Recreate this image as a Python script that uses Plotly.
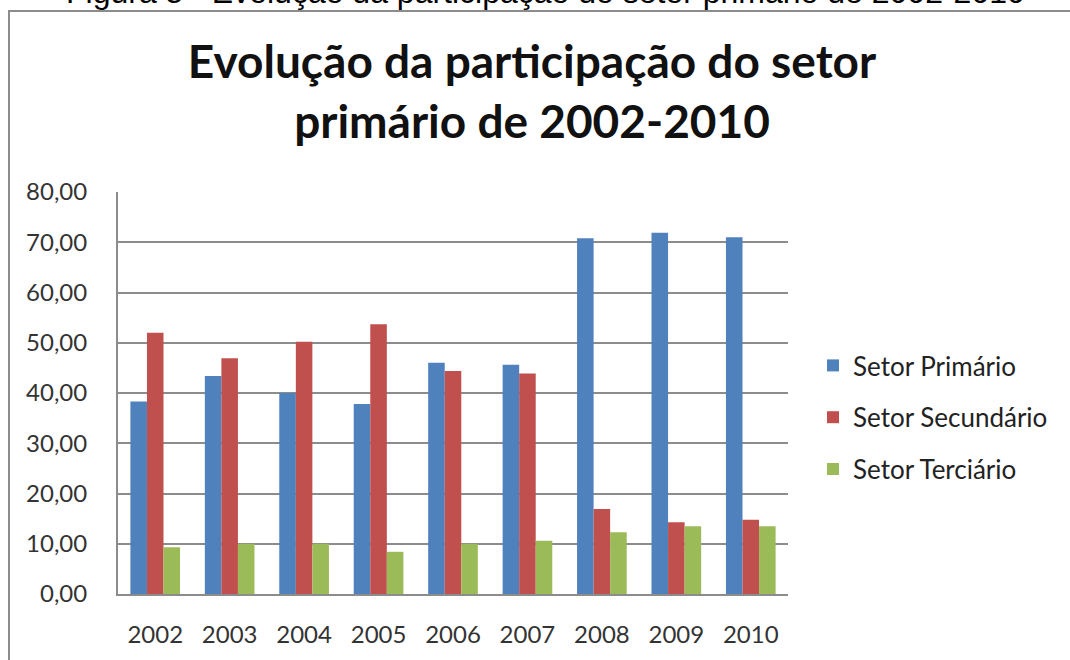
import plotly.graph_objects as go

anos = ["2002", "2003", "2004", "2005", "2006", "2007", "2008", "2009", "2010"]
primario = [38.3, 43.4, 40.0, 37.8, 46.0, 45.6, 70.8, 71.9, 71.0]
secundario = [52.0, 46.9, 50.2, 53.7, 44.4, 43.9, 16.9, 14.3, 14.8]
terciario = [9.3, 10.0, 10.0, 8.4, 10.0, 10.6, 12.3, 13.5, 13.5]
series_nomes = ["Setor Primário", "Setor Secundário", "Setor Terciário"]
cores = ["#4F81BD", "#C0504D", "#9BBB59"]

W, H = 1070, 660
L, R, T, B = 118, 788, 192, 594  # plot area in pixels


def px(x):
    return (x - L) / (R - L)


def py(y):
    return (B - y) / (B - T)


fig = go.Figure()
for nome, vals, cor in zip(series_nomes, [primario, secundario, terciario], cores):
    fig.add_trace(go.Bar(x=anos, y=vals, name=nome, marker_color=cor,
                         marker_line_width=0, legendgroup=nome))

fig.update_layout(
    width=W, height=H,
    margin=dict(l=L, r=W - R, t=T, b=H - B, pad=0, autoexpand=False),
    paper_bgcolor="white", plot_bgcolor="white",
    barmode="group", bargap=0.333, bargroupgap=0,
    separators=",.",
    font=dict(family="Lato, Calibri, sans-serif", color="#3a3a3a"),
    title=dict(text="Evolução da participação do setor<br>primário de 2002-2010",
               font=dict(family="Lato, Calibri, sans-serif", size=46, color="#111111",
                         weight="bold"),
               x=532 / W, xanchor="center", xref="container",
               y=1 - 78 / H, yanchor="top", yref="container", automargin=False),
    showlegend=True,
    legend=dict(x=px(813), y=py(342), xanchor="left", yanchor="top",
                font=dict(size=26, color="#222222"), tracegroupgap=15,
                bgcolor="rgba(0,0,0,0)"),
    xaxis=dict(type="category", showgrid=False, showline=True, linecolor="#8c8c8c",
               linewidth=2, ticks="", tickfont=dict(size=24, color="#333333"),
               ticklabelstandoff=18, automargin=False),
    yaxis=dict(range=[0, 80], dtick=10, tickformat=".2f", showgrid=True,
               gridcolor="#8c8c8c", gridwidth=1.5, showline=True, linecolor="#8c8c8c",
               linewidth=2, ticks="", zeroline=False, automargin=False,
               tickfont=dict(size=24, color="#333333"), ticklabelstandoff=24),
    shapes=[dict(type="rect", xref="paper", yref="paper",
                 x0=px(9), x1=px(1080), y0=py(11), y1=py(670),
                 line=dict(color="#8c8c8c", width=2), fillcolor="rgba(0,0,0,0)",
                 layer="below")],
    annotations=[dict(text="Figura 5 - Evolução da participação do setor primário de 2002-2010",
                      xref="paper", yref="paper", x=px(545), y=py(-8),
                      xanchor="center", yanchor="middle", showarrow=False,
                      font=dict(family="Liberation Sans, Arial, sans-serif", size=32,
                                color="#000000"))],
)

fig.write_html("out.html", config={"displayModeBar": False},
               post_script="document.body.style.margin='0';")
